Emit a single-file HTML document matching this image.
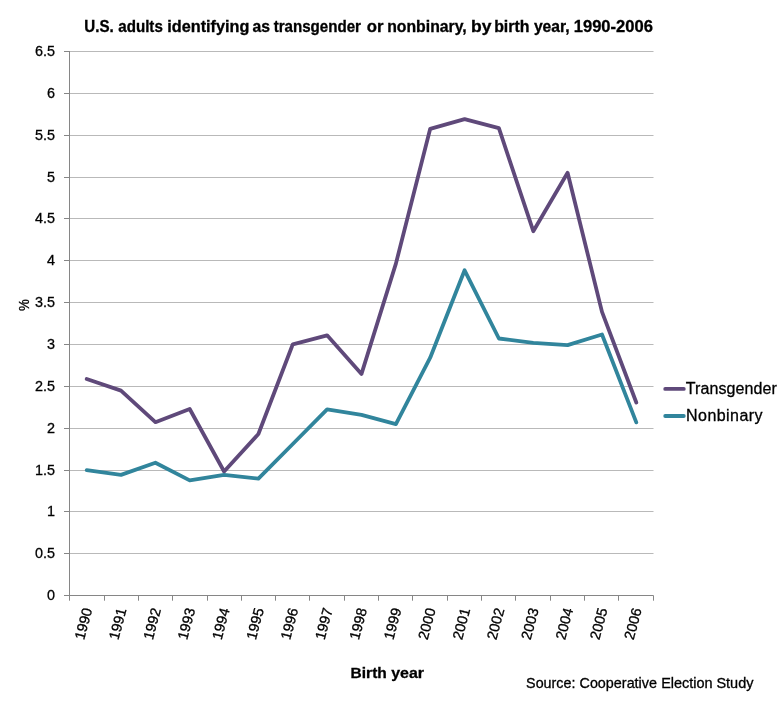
<!DOCTYPE html>
<html lang="en">
<head>
<meta charset="utf-8">
<title>U.S. adults identifying as transgender or nonbinary, by birth year, 1990-2006</title>
<style>
html,body{margin:0;padding:0;background:#fff;}
body{width:784px;height:709px;overflow:hidden;}
svg{display:block;will-change:transform;}
text{font-family:"Liberation Sans",sans-serif;fill:#000;stroke:#000;stroke-width:0.3px;}
.b{font-weight:bold;stroke-width:0.15px;}
</style>
</head>
<body>
<svg width="784" height="709" viewBox="0 0 784 709">
<rect x="0" y="0" width="784" height="709" fill="#ffffff"/>
<g stroke="#b9b9b9" stroke-width="1" fill="none">
<line x1="69.5" y1="51.50" x2="653.5" y2="51.50"/>
<line x1="69.5" y1="93.50" x2="653.5" y2="93.50"/>
<line x1="69.5" y1="135.50" x2="653.5" y2="135.50"/>
<line x1="69.5" y1="177.50" x2="653.5" y2="177.50"/>
<line x1="69.5" y1="218.50" x2="653.5" y2="218.50"/>
<line x1="69.5" y1="260.50" x2="653.5" y2="260.50"/>
<line x1="69.5" y1="302.50" x2="653.5" y2="302.50"/>
<line x1="69.5" y1="344.50" x2="653.5" y2="344.50"/>
<line x1="69.5" y1="386.50" x2="653.5" y2="386.50"/>
<line x1="69.5" y1="428.50" x2="653.5" y2="428.50"/>
<line x1="69.5" y1="470.50" x2="653.5" y2="470.50"/>
<line x1="69.5" y1="511.50" x2="653.5" y2="511.50"/>
<line x1="69.5" y1="553.50" x2="653.5" y2="553.50"/>
</g>
<g stroke="#868686" stroke-width="1" fill="none">
<line x1="69.5" y1="51.0" x2="69.5" y2="596.0"/>
<line x1="64.0" y1="595.5" x2="653.5" y2="595.5"/>
<line x1="64.0" y1="51.50" x2="69.5" y2="51.50"/>
<line x1="64.0" y1="93.50" x2="69.5" y2="93.50"/>
<line x1="64.0" y1="135.50" x2="69.5" y2="135.50"/>
<line x1="64.0" y1="177.50" x2="69.5" y2="177.50"/>
<line x1="64.0" y1="218.50" x2="69.5" y2="218.50"/>
<line x1="64.0" y1="260.50" x2="69.5" y2="260.50"/>
<line x1="64.0" y1="302.50" x2="69.5" y2="302.50"/>
<line x1="64.0" y1="344.50" x2="69.5" y2="344.50"/>
<line x1="64.0" y1="386.50" x2="69.5" y2="386.50"/>
<line x1="64.0" y1="428.50" x2="69.5" y2="428.50"/>
<line x1="64.0" y1="470.50" x2="69.5" y2="470.50"/>
<line x1="64.0" y1="511.50" x2="69.5" y2="511.50"/>
<line x1="64.0" y1="553.50" x2="69.5" y2="553.50"/>
<line x1="69.5" y1="595.5" x2="69.5" y2="600.7"/>
<line x1="104.5" y1="595.5" x2="104.5" y2="600.7"/>
<line x1="138.5" y1="595.5" x2="138.5" y2="600.7"/>
<line x1="172.5" y1="595.5" x2="172.5" y2="600.7"/>
<line x1="207.5" y1="595.5" x2="207.5" y2="600.7"/>
<line x1="241.5" y1="595.5" x2="241.5" y2="600.7"/>
<line x1="275.5" y1="595.5" x2="275.5" y2="600.7"/>
<line x1="309.5" y1="595.5" x2="309.5" y2="600.7"/>
<line x1="344.5" y1="595.5" x2="344.5" y2="600.7"/>
<line x1="378.5" y1="595.5" x2="378.5" y2="600.7"/>
<line x1="412.5" y1="595.5" x2="412.5" y2="600.7"/>
<line x1="447.5" y1="595.5" x2="447.5" y2="600.7"/>
<line x1="481.5" y1="595.5" x2="481.5" y2="600.7"/>
<line x1="515.5" y1="595.5" x2="515.5" y2="600.7"/>
<line x1="550.5" y1="595.5" x2="550.5" y2="600.7"/>
<line x1="584.5" y1="595.5" x2="584.5" y2="600.7"/>
<line x1="618.5" y1="595.5" x2="618.5" y2="600.7"/>
<line x1="653.5" y1="595.5" x2="653.5" y2="600.7"/>
</g>
<g font-size="15" text-anchor="end">
<text x="55.0" y="56.4" textLength="20.0" lengthAdjust="spacingAndGlyphs">6.5</text>
<text x="55.0" y="98.4" textLength="8.0" lengthAdjust="spacingAndGlyphs">6</text>
<text x="55.0" y="140.4" textLength="20.0" lengthAdjust="spacingAndGlyphs">5.5</text>
<text x="55.0" y="182.4" textLength="8.0" lengthAdjust="spacingAndGlyphs">5</text>
<text x="55.0" y="223.4" textLength="20.0" lengthAdjust="spacingAndGlyphs">4.5</text>
<text x="55.0" y="265.4" textLength="8.0" lengthAdjust="spacingAndGlyphs">4</text>
<text x="55.0" y="307.4" textLength="20.0" lengthAdjust="spacingAndGlyphs">3.5</text>
<text x="55.0" y="349.4" textLength="8.0" lengthAdjust="spacingAndGlyphs">3</text>
<text x="55.0" y="391.4" textLength="20.0" lengthAdjust="spacingAndGlyphs">2.5</text>
<text x="55.0" y="433.4" textLength="8.0" lengthAdjust="spacingAndGlyphs">2</text>
<text x="55.0" y="475.4" textLength="20.0" lengthAdjust="spacingAndGlyphs">1.5</text>
<text x="55.0" y="516.4" textLength="8.0" lengthAdjust="spacingAndGlyphs">1</text>
<text x="55.0" y="558.4" textLength="20.0" lengthAdjust="spacingAndGlyphs">0.5</text>
<text x="55.0" y="600.4" textLength="8.0" lengthAdjust="spacingAndGlyphs">0</text>
</g>
<g font-size="14.4" text-anchor="end">
<text transform="translate(92.3,609.5) rotate(-75)">1990</text>
<text transform="translate(126.6,609.5) rotate(-75)">1991</text>
<text transform="translate(161.0,609.5) rotate(-75)">1992</text>
<text transform="translate(195.3,609.5) rotate(-75)">1993</text>
<text transform="translate(229.7,609.5) rotate(-75)">1994</text>
<text transform="translate(264.0,609.5) rotate(-75)">1995</text>
<text transform="translate(298.4,609.5) rotate(-75)">1996</text>
<text transform="translate(332.7,609.5) rotate(-75)">1997</text>
<text transform="translate(367.1,609.5) rotate(-75)">1998</text>
<text transform="translate(401.5,609.5) rotate(-75)">1999</text>
<text transform="translate(435.8,609.5) rotate(-75)">2000</text>
<text transform="translate(470.2,609.5) rotate(-75)">2001</text>
<text transform="translate(504.5,609.5) rotate(-75)">2002</text>
<text transform="translate(538.9,609.5) rotate(-75)">2003</text>
<text transform="translate(573.2,609.5) rotate(-75)">2004</text>
<text transform="translate(607.6,609.5) rotate(-75)">2005</text>
<text transform="translate(641.9,609.5) rotate(-75)">2006</text>
</g>
<polyline points="86.7,379.0 121.0,390.6 155.4,422.2 189.7,409.0 224.1,471.5 258.4,434.0 292.8,344.3 327.1,335.3 361.5,373.9 395.9,263.6 430.2,128.8 464.6,119.2 498.9,128.2 533.3,231.2 567.6,172.8 602.0,311.9 636.3,402.5" fill="none" stroke="#5f497a" stroke-width="3.8" stroke-linejoin="round" stroke-linecap="round"/>
<polyline points="86.7,470.2 121.0,474.9 155.4,462.7 189.7,480.4 224.1,474.8 258.4,478.6 292.8,444.0 327.1,409.4 361.5,414.8 395.9,424.1 430.2,357.7 464.6,270.3 498.9,338.5 533.3,342.8 567.6,345.1 602.0,334.5 636.3,422.4" fill="none" stroke="#31859c" stroke-width="3.8" stroke-linejoin="round" stroke-linecap="round"/>
<line x1="665.2" y1="388.9" x2="683.8" y2="388.9" stroke="#5f497a" stroke-width="3.8" stroke-linecap="round"/>
<line x1="665.2" y1="416.0" x2="683.8" y2="416.0" stroke="#31859c" stroke-width="3.8" stroke-linecap="round"/>
<text x="685.8" y="393.6" font-size="16" textLength="91.0" lengthAdjust="spacing">Transgender</text>
<text x="686.1" y="420.6" font-size="16" textLength="76.4" lengthAdjust="spacing">Nonbinary</text>
<g class="b" font-size="15.6">
<text x="84.36" y="32.0" textLength="29.4" lengthAdjust="spacingAndGlyphs">U.S.</text>
<text x="118.3" y="32.0" textLength="44.5" lengthAdjust="spacingAndGlyphs">adults</text>
<text x="167.36" y="32.0" textLength="82.02" lengthAdjust="spacingAndGlyphs">identifying</text>
<text x="252.4" y="32.0" textLength="17.5" lengthAdjust="spacingAndGlyphs">as</text>
<text x="273.64" y="32.0" textLength="87.34" lengthAdjust="spacingAndGlyphs">transgender</text>
<text x="366.8" y="32.0" textLength="16.7" lengthAdjust="spacingAndGlyphs">or</text>
<text x="387.2" y="32.0" textLength="79.5" lengthAdjust="spacingAndGlyphs">nonbinary,</text>
<text x="471.1" y="32.0" textLength="20.4" lengthAdjust="spacingAndGlyphs">by</text>
<text x="494.17" y="32.0" textLength="35.33" lengthAdjust="spacingAndGlyphs">birth</text>
<text x="533.9" y="32.0" textLength="35.7" lengthAdjust="spacingAndGlyphs">year,</text>
<text x="573.74" y="32.0" textLength="79.14" lengthAdjust="spacingAndGlyphs">1990-2006</text>
</g>
<g class="b" font-size="15.5">
<text x="350.6" y="677.5" textLength="36.2" lengthAdjust="spacingAndGlyphs">Birth</text>
<text x="391.2" y="677.5" textLength="32.8" lengthAdjust="spacingAndGlyphs">year</text>
</g>
<text transform="translate(28.8,311.1) rotate(-90)" font-size="14" textLength="11.8" lengthAdjust="spacingAndGlyphs">%</text>
<g font-size="14.6">
<text x="526.1" y="687.9" textLength="49.28" lengthAdjust="spacingAndGlyphs">Source:</text>
<text x="579.5" y="687.9" textLength="77.5" lengthAdjust="spacingAndGlyphs">Cooperative</text>
<text x="661.17" y="687.9" textLength="51.52" lengthAdjust="spacingAndGlyphs">Election</text>
<text x="716.41" y="687.9" textLength="37.09" lengthAdjust="spacingAndGlyphs">Study</text>
</g>
</svg>
</body>
</html>
